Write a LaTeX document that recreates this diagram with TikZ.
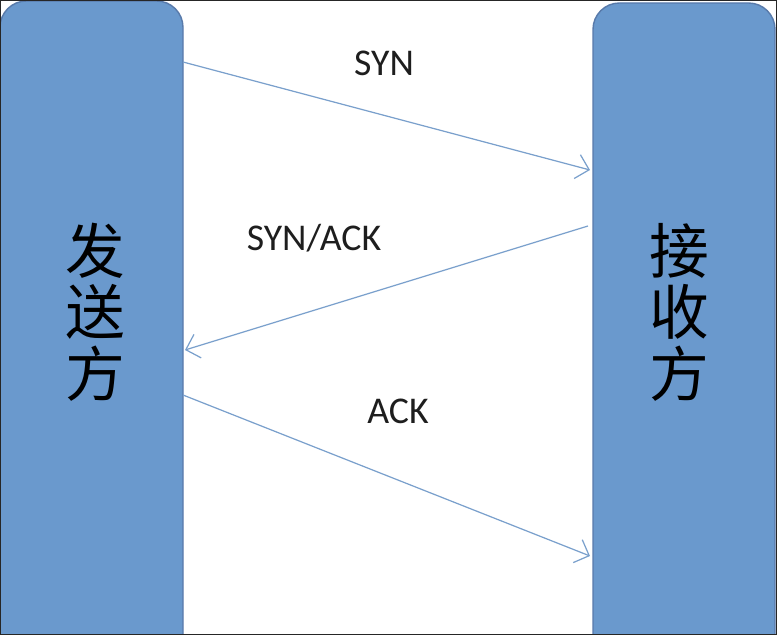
\documentclass[tikz,border=0pt]{standalone}
\usepackage{fontspec}
\setmainfont{Carlito}
\newfontfamily\cjk{Noto Sans CJK SC}
\usetikzlibrary{arrows.meta}
\definecolor{barfill}{RGB}{106,153,205}
\definecolor{baredge}{RGB}{88,122,170}
\definecolor{msgline}{RGB}{122,160,204}
\definecolor{msgtext}{RGB}{30,30,30}
\tikzset{
  bar/.style={fill=barfill, draw=baredge, line width=0.8pt},
  side/.style={font=\cjk\fontsize{34}{34}\selectfont, align=center, text=black, inner sep=0pt},
  msg/.style={draw=msgline, line width=0.7pt, -{Straight Barb[length=7pt, width=14pt, line width=0.7pt]}},
  msglabel/.style={font=\fontsize{21.5}{24}\selectfont, text=msgtext, inner sep=0pt}
}
\begin{document}
\begin{tikzpicture}[x=0.02cm, y=-0.02cm]
  \useasboundingbox (0,0) rectangle (777,635);
  \clip (0,0) rectangle (777,635);
  % the two parties
  \draw[bar] (0,700) {[rounded corners=15pt] -- (0,1) -- (183,1)} -- (183,700) -- cycle;
  \draw[bar] (593,700) {[rounded corners=15pt] -- (593,3) -- (775,3)} -- (775,700) -- cycle;
  \node[side] (S) at (95,312) {发\\[1pt]送\\[1pt]方};
  \node[side] (R) at (679,312) {接\\[1pt]收\\[1pt]方};
  % end points of the messages
  \coordinate (s1) at (183,62);
  \coordinate (r1) at (590,170);
  \coordinate (r2) at (588,226);
  \coordinate (s2) at (185,350);
  \coordinate (s3) at (183,395);
  \coordinate (r3) at (590,556);
  \draw[msg] (s1) -- (r1);
  \draw[msg] (r2) -- (s2);
  \draw[msg] (s3) -- (r3);
  \node[msglabel] (syn) at (384,63) {SYN};
  \node[msglabel] (synack) at (314,238) {SYN/ACK};
  \node[msglabel] (ack) at (398,411) {ACK};
  % frame
  \draw[draw=black!85, line width=1.6pt] (0,0) rectangle (777,635);
\end{tikzpicture}
\end{document}
